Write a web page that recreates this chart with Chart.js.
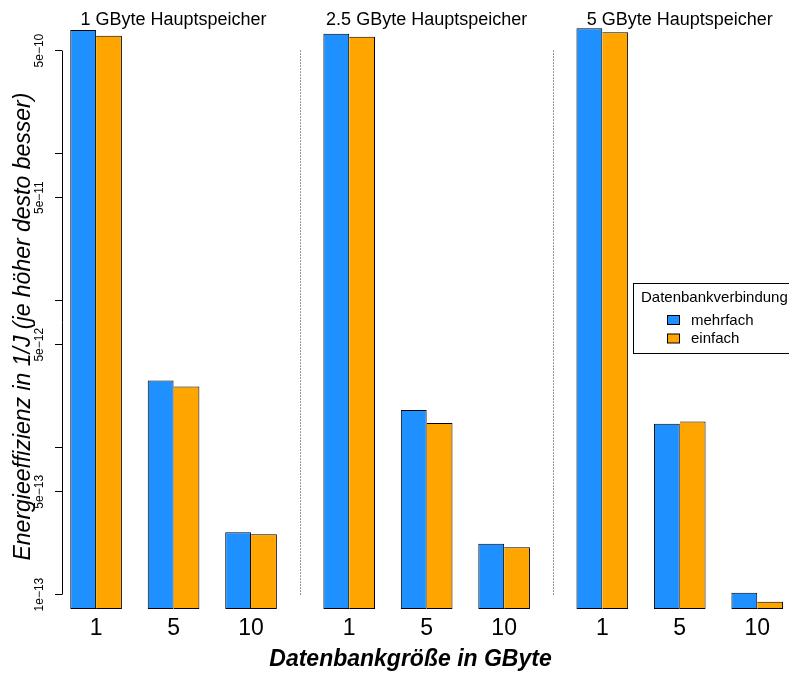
<!DOCTYPE html>
<html>
<head>
<meta charset="utf-8">
<script src="https://cdn.jsdelivr.net/npm/chart.js@4.4.1/dist/chart.umd.min.js"></script>
<style>
  html, body { margin: 0; padding: 0; background: #fff; }
  #wrap { width: 789px; height: 673px; position: relative; }
</style>
</head>
<body>
<div id="wrap"><canvas id="c" width="789" height="673"></canvas></div>
<script>
// Energy efficiency (1/J) per main-memory size, database size and connection mode
const panels = ['1 GByte Hauptspeicher', '2.5 GByte Hauptspeicher', '5 GByte Hauptspeicher'];
const dbSizes = ['1', '5', '10'];
const mehrfach1GB  = [6.9e-10, 2.85e-12, 2.65e-13];
const einfach1GB   = [6.3e-10, 2.6e-12, 2.57e-13];
const mehrfach25GB = [6.5e-10, 1.8e-12, 2.22e-13];
const einfach25GB  = [6.2e-10, 1.47e-12, 2.1e-13];
const mehrfach5GB  = [7.1e-10, 1.45e-12, 1.03e-13];
const einfach5GB   = [6.65e-10, 1.5e-12, 8.95e-14];
const yTickValues = [1e-13, 5e-13, 1e-12, 5e-12, 1e-11, 5e-11, 1e-10, 5e-10];
const yTickLabels = ['1e\u221213', '5e\u221213', '', '5e\u221212', '', '5e\u221211', '', '5e\u221210'];
const legendTitle = 'Datenbankverbindung';
const xTitle = 'Datenbankgröße in GByte';
const yTitle = 'Energieeffizienz in 1/J (je höher desto besser)';

// Layout in bar-width units: each panel is a barplot with one bar of space before each pair
const PANEL_STRIDE = 9.8;
const GROUP_STEP = 3;
const FONT = "'Liberation Sans', Arial, Helvetica, sans-serif";

function groupCenter(p, g) { return p * PANEL_STRIDE + 2 + g * GROUP_STEP; }

const xTickValues = [];
const xTickLabels = [];
panels.forEach((_, p) => dbSizes.forEach((s, g) => { xTickValues.push(groupCenter(p, g)); xTickLabels.push(s); }));

function toPoints(series) {
  const pts = [];
  series.forEach((vals, p) => vals.forEach((v, g) => pts.push({ x: groupCenter(p, g), y: v })));
  return pts;
}

Chart.defaults.font.family = FONT;
Chart.defaults.color = '#000';

const decor = {
  id: 'decor',
  afterDraw(chart) {
    const { ctx, chartArea, scales: { x, y } } = chart;
    ctx.save();
    const yTop = y.getPixelForValue(yTickValues[yTickValues.length - 1]);
    const yBot = y.getPixelForValue(yTickValues[0]);

    // y axis line between first and last tick
    ctx.strokeStyle = '#000';
    ctx.lineWidth = 1;
    ctx.beginPath();
    ctx.moveTo(chartArea.left + 0.5, yTop);
    ctx.lineTo(chartArea.left + 0.5, yBot);
    ctx.stroke();

    // dotted separators between panels
    ctx.strokeStyle = '#333';
    ctx.setLineDash([1, 2]);
    for (let p = 0; p < panels.length - 1; p++) {
      const px = Math.round(x.getPixelForValue(p * PANEL_STRIDE + 5 + PANEL_STRIDE / 2)) + 0.5;
      ctx.beginPath();
      ctx.moveTo(px, yTop);
      ctx.lineTo(px, yBot);
      ctx.stroke();
    }
    ctx.setLineDash([]);

    // panel titles
    ctx.fillStyle = '#000';
    ctx.font = '18px ' + FONT;
    ctx.textAlign = 'center';
    ctx.textBaseline = 'alphabetic';
    panels.forEach((t, p) => {
      ctx.fillText(t, x.getPixelForValue(p * PANEL_STRIDE + 5), 24.5);
    });

    // x axis title
    ctx.font = 'italic bold 23px ' + FONT;
    ctx.fillText(xTitle, (chartArea.left - 32 + chart.width) / 2 + 1, 666);

    // y axis title
    ctx.save();
    ctx.translate(29.5, (yTop + yBot) / 2 + 4);
    ctx.rotate(-Math.PI / 2);
    ctx.font = 'italic 23px ' + FONT;
    ctx.fillText(yTitle, 0, 0);
    ctx.restore();

    // legend
    const lx = 633, ly = 283, lh = 70;
    ctx.fillStyle = '#fff';
    ctx.fillRect(lx, ly, chart.width - lx + 2, lh);
    ctx.strokeStyle = '#000';
    ctx.strokeRect(lx + 0.5, ly + 0.5, chart.width - lx + 2, lh);
    ctx.fillStyle = '#000';
    ctx.font = '15px ' + FONT;
    ctx.textAlign = 'left';
    ctx.textBaseline = 'middle';
    ctx.fillText(legendTitle, 641, 298);
    chart.data.datasets.forEach((ds, i) => {
      const cy = 320 + i * 18.5;
      ctx.fillStyle = ds.backgroundColor;
      ctx.fillRect(667, cy - 4.5, 12, 9);
      ctx.strokeStyle = '#000';
      ctx.strokeRect(667.5, cy - 4.5, 12, 9);
      ctx.fillStyle = '#000';
      ctx.fillText(ds.label, 691, cy + 0.5);
    });
    ctx.restore();
  }
};

new Chart(document.getElementById('c'), {
  type: 'bar',
  data: {
    datasets: [
      {
        label: 'mehrfach',
        data: toPoints([mehrfach1GB, mehrfach25GB, mehrfach5GB]),
        backgroundColor: '#1E90FF',
        borderColor: '#000',
        borderWidth: 1,
        borderSkipped: false
      },
      {
        label: 'einfach',
        data: toPoints([einfach1GB, einfach25GB, einfach5GB]),
        backgroundColor: '#FFA500',
        borderColor: '#000',
        borderWidth: { top: 1, right: 1, bottom: 1, left: 0 },
        borderSkipped: false
      }
    ]
  },
  options: {
    responsive: false,
    animation: false,
    layout: { padding: { top: 22, left: 0, right: 0, bottom: 0 } },
    datasets: { bar: { categoryPercentage: 2 / 3, barPercentage: 1 } },
    plugins: { legend: { display: false }, tooltip: { enabled: false } },
    scales: {
      x: {
        type: 'linear',
        bounds: 'data',
        min: 0.68,
        max: 28.83,
        offset: false,
        grid: { display: false, drawTicks: false },
        border: { display: false },
        afterBuildTicks: (s) => { s.ticks = xTickValues.map(v => ({ value: v })); },
        afterFit: (s) => { s.height = 64; },
        ticks: {
          autoSkip: false, maxRotation: 0, padding: 6,
          font: { size: 23 },
          callback: (v, i) => xTickLabels[i]
        }
      },
      y: {
        type: 'logarithmic',
        bounds: 'data',
        min: 7.98e-14,
        max: 7.82e-10,
        grid: { display: true, drawOnChartArea: false, drawTicks: true, tickLength: 7, color: '#000', lineWidth: 1 },
        border: { display: false },
        afterBuildTicks: (s) => { s.ticks = yTickValues.map(v => ({ value: v })); },
        afterFit: (s) => { s.width = 62; },
        ticks: {
          autoSkip: false, minRotation: 90, maxRotation: 90, crossAlign: 'center', padding: -2,
          font: { size: 12 },
          callback: (v, i) => yTickLabels[i]
        }
      }
    }
  },
  plugins: [decor]
});
</script>
</body>
</html>
